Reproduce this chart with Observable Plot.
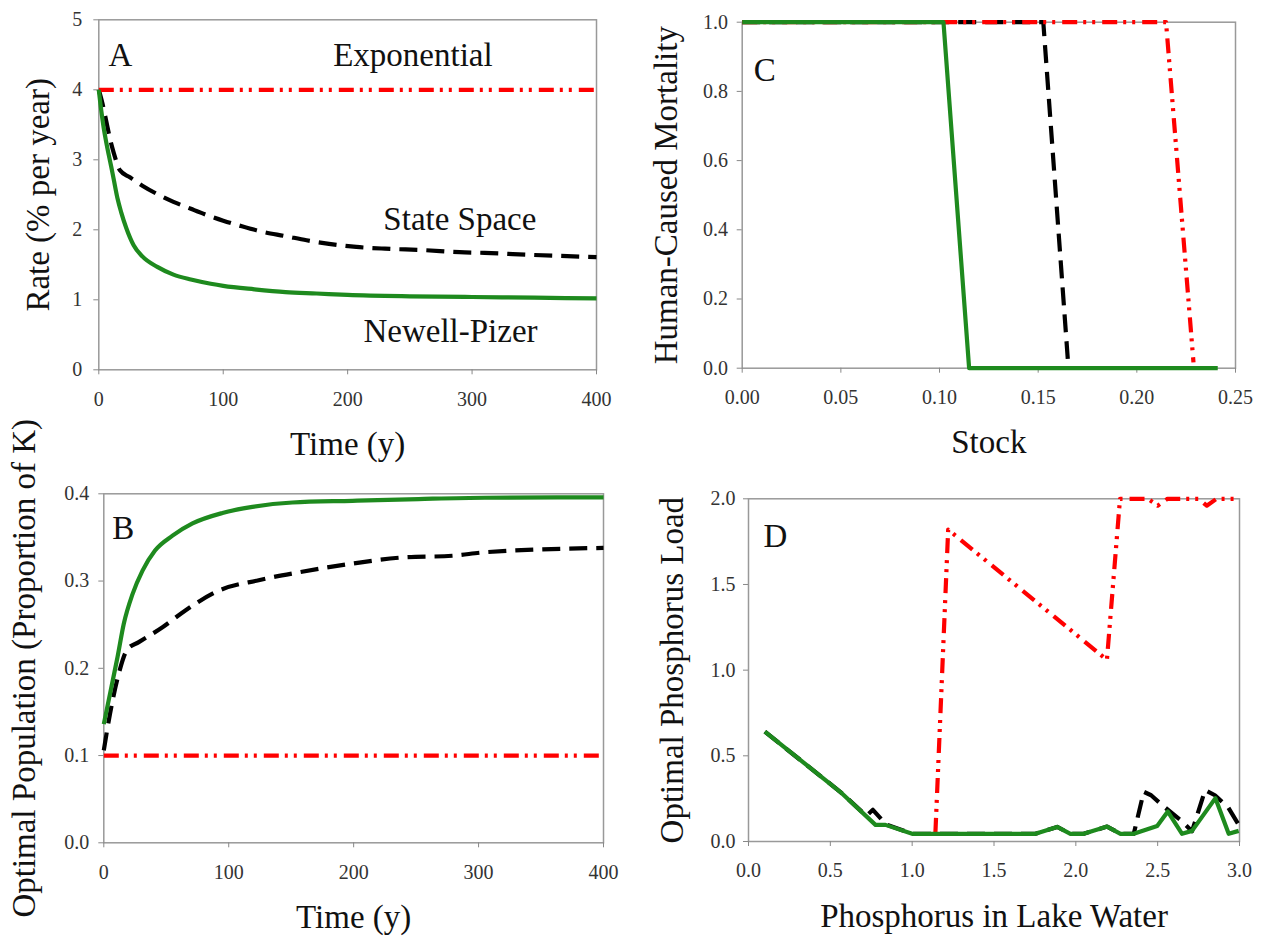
<!DOCTYPE html>
<html><head><meta charset="utf-8">
<script src="https://cdn.jsdelivr.net/npm/d3@7"></script>
<script src="https://cdn.jsdelivr.net/npm/@observablehq/plot@0.6"></script>
<style>
html,body{margin:0;padding:0;background:#fff;}
#chart{position:relative;width:1264px;height:937px;overflow:hidden;}
#chart svg{position:absolute;font-family:"Liberation Serif","Times New Roman",Times,serif !important;}
#chart svg text{font-family:"Liberation Serif","Times New Roman",Times,serif !important;}
</style></head><body><div id="chart"></div>
<script>
// ---------- Panel A: Rate (% per year) vs Time ----------
const aExpTime = [0, 400];
const aExpRate = [4, 4];
const aStateTime = [0, 3, 6, 9, 12, 17, 25, 35, 47, 60, 74, 87, 100, 115, 132, 150, 167, 185, 207, 230, 261, 290, 310, 350, 400];
const aStateRate = [4.0, 3.8, 3.55, 3.3, 3.1, 2.85, 2.75, 2.63, 2.51, 2.40, 2.30, 2.21, 2.13, 2.05, 1.97, 1.91, 1.85, 1.80, 1.755, 1.73, 1.71, 1.68, 1.67, 1.64, 1.61];
const aNewellTime = [0, 2, 4, 6, 8, 10, 12, 15, 18, 22, 28, 35, 47, 60, 74, 90, 100, 125, 150, 175, 200, 250, 300, 350, 400];
const aNewellRate = [4.0, 3.7, 3.45, 3.25, 3.07, 2.9, 2.72, 2.45, 2.25, 2.03, 1.78, 1.62, 1.47, 1.36, 1.29, 1.23, 1.2, 1.15, 1.11, 1.09, 1.07, 1.05, 1.04, 1.03, 1.02];
const aXTicks = [0, 100, 200, 300, 400];
const aYTicks = [0, 1, 2, 3, 4, 5];

// ---------- Panel B: Optimal Population vs Time ----------
const bExpTime = [0, 400];
const bExpPop = [0.1, 0.1];
const bStateTime = [0, 5, 12, 19, 28, 47, 65, 92, 124, 156, 199, 239, 279, 305, 400];
const bStatePop = [0.106, 0.148, 0.194, 0.222, 0.230, 0.247, 0.266, 0.289, 0.301, 0.310, 0.320, 0.327, 0.329, 0.333, 0.338];
const bNewellTime = [0, 5, 11, 16, 23, 31, 41, 55, 71, 95, 119, 151, 199, 252, 305, 400];
const bNewellPop = [0.136, 0.171, 0.213, 0.251, 0.285, 0.312, 0.335, 0.352, 0.366, 0.378, 0.385, 0.390, 0.392, 0.394, 0.3955, 0.396];
const bXTicks = [0, 100, 200, 300, 400];
const bYTicks = [0, 0.1, 0.2, 0.3, 0.4];

// ---------- Panel C: Human-Caused Mortality vs Stock ----------
const cExpStock = [0, 0.2148, 0.2287];
const cExpMort = [1, 1, 0.017];
const cStateStock = [0, 0.1526, 0.165];
const cStateMort = [1, 1, 0.027];
const cNewellStock = [0, 0.102, 0.115, 0.241];
const cNewellMort = [1, 1, 0, 0];
const cXTicks = [0, 0.05, 0.10, 0.15, 0.20, 0.25];
const cYTicks = [0, 0.2, 0.4, 0.6, 0.8, 1.0];

// ---------- Panel D: Optimal Phosphorus Load vs Phosphorus in Lake Water ----------
const dExpP = [1.142, 1.22, 2.19, 2.27, 2.44, 2.5, 2.56, 2.75, 2.8, 2.86, 3.0];
const dExpLoad = [0.05, 1.82, 1.06, 2.0, 2.0, 1.96, 2.0, 2.0, 1.96, 2.0, 2.0];
const dStateP = [0.1, 0.56, 0.72, 0.76, 0.84, 1.0, 1.753, 1.886, 1.967, 2.048, 2.191, 2.273, 2.354, 2.415, 2.46, 2.53, 2.64, 2.71, 2.79, 2.85, 2.93, 3.0];
const dStateLoad = [0.641, 0.29, 0.15, 0.185, 0.10, 0.045, 0.045, 0.085, 0.045, 0.045, 0.087, 0.045, 0.045, 0.29, 0.27, 0.21, 0.125, 0.06, 0.30, 0.27, 0.20, 0.09];
const dNewellP = [0.1, 0.56, 0.776, 0.837, 1.0, 1.753, 1.886, 1.967, 2.048, 2.191, 2.273, 2.354, 2.497, 2.562, 2.649, 2.71, 2.853, 2.934, 2.995];
const dNewellLoad = [0.641, 0.29, 0.097, 0.097, 0.045, 0.045, 0.085, 0.045, 0.045, 0.087, 0.045, 0.045, 0.091, 0.175, 0.045, 0.062, 0.253, 0.045, 0.062];
const dXTicks = [0, 0.5, 1.0, 1.5, 2.0, 2.5, 3.0];
const dYTicks = [0, 0.5, 1.0, 1.5, 2.0];

// ---------- styles ----------
const FONT = "Liberation Serif, Times New Roman, Times, serif";
const GREEN = "#1e8a1e", RED = "#ff0000", BLACK = "#000000";
const RED_DASH = "15,6,3,6,3,7";
const BLACK_DASH = "18,9";
const zip = (xs, ys) => xs.map((x, i) => ({x, y: ys[i]}));

function panel(o) {
  const lineOpts = {x: "x", y: "y", strokeWidth: 4.2, strokeLinejoin: "round", strokeLinecap: "butt", curve: o.curve || "linear"};
  const marks = [
    Plot.frame({stroke: "#999", strokeWidth: 1.5}),
    Plot.axisX({ticks: o.xTicks, tickFormat: o.xFormat, tickSize: 5, tickPadding: 16.5, fontSize: 20, fill: "#333", stroke: "#888", label: null}),
    Plot.axisY({ticks: o.yTicks, tickFormat: o.yFormat, tickSize: 5, tickPadding: o.yPad, fontSize: 20, fill: "#333", stroke: "#888", label: null}),
    Plot.line(zip(o.state[0], o.state[1]), {...lineOpts, stroke: BLACK, strokeDasharray: BLACK_DASH}),
    Plot.line(zip(o.exp[0], o.exp[1]), {...lineOpts, curve: "linear", stroke: RED, strokeDasharray: RED_DASH}),
    Plot.line(zip(o.newell[0], o.newell[1]), {...lineOpts, stroke: GREEN}),
    Plot.text([o.letter], {text: d => d, frameAnchor: "top-left", dx: o.letterDx, dy: o.letterDy, textAnchor: "start", lineAnchor: "bottom", fontSize: 33, fill: "#111"}),
    Plot.text([o.xTitle], {text: d => d, frameAnchor: "bottom", dy: 85, textAnchor: "middle", lineAnchor: "bottom", fontSize: 33, fill: "#111"}),
    Plot.text([o.yTitle], {text: d => d, frameAnchor: "left", dx: o.yTitleDx, rotate: -90, textAnchor: "middle", lineAnchor: "bottom", fontSize: 33, fill: "#111"})
  ];
  if (o.notes) marks.push(Plot.text(o.notes, {x: "x", y: "y", text: "label", textAnchor: "start", lineAnchor: "bottom", fontSize: 33, fill: "#111"}));
  const svg = Plot.plot({
    width: o.width, height: o.height,
    marginLeft: o.m[0], marginRight: o.m[1], marginTop: o.m[2], marginBottom: o.m[3],
    x: {domain: o.xDomain},
    y: {domain: o.yDomain},
    style: {fontFamily: FONT, background: "transparent", overflow: "visible"},
    marks
  });
  svg.style.left = o.left + "px";
  svg.style.top = o.top + "px";
  document.getElementById("chart").appendChild(svg);
}

const aNoteLabels = ["Exponential", "State Space", "Newell-Pizer"];
const aNoteX = [188.4, 228.7, 212.7];
const aNoteY = [4.336, 1.993, 0.397];

panel({
  left: 0, top: 0, width: 632, height: 470, m: [98.3, 36, 19.3, 100.7],
  xDomain: [0, 400], yDomain: [0, 5], xTicks: aXTicks, yTicks: aYTicks, xFormat: "d", yFormat: "d", yPad: 11.5,
  exp: [aExpTime, aExpRate], state: [aStateTime, aStateRate], newell: [aNewellTime, aNewellRate], curve: "monotone-x",
  letter: "A", letterDx: 9.7, letterDy: 45.7,
  xTitle: "Time (y)", yTitle: "Rate (% per year)", yTitleDx: -49.7,
  notes: aNoteLabels.map((label, i) => ({label, x: aNoteX[i], y: aNoteY[i]}))
});

panel({
  left: 0, top: 470, width: 632, height: 467, m: [103.3, 29, 23.3, 94.7],
  xDomain: [0, 400], yDomain: [0, 0.4], xTicks: bXTicks, yTicks: bYTicks, xFormat: "d", yFormat: ".1f", yPad: 9.5,
  exp: [bExpTime, bExpPop], state: [bStateTime, bStatePop], newell: [bNewellTime, bNewellPop], curve: "monotone-x",
  letter: "B", letterDx: 8.4, letterDy: 45,
  xTitle: "Time (y)", yTitle: "Optimal Population (Proportion of K)", yTitleDx: -68.5
});

panel({
  left: 632, top: 0, width: 632, height: 470, m: [109.7, 29, 21.7, 102.3],
  xDomain: [0, 0.25], yDomain: [0, 1], xTicks: cXTicks, yTicks: cYTicks, xFormat: ".2f", yFormat: ".1f", yPad: 9.3,
  exp: [cExpStock, cExpMort], state: [cStateStock, cStateMort], newell: [cNewellStock, cNewellMort],
  letter: "C", letterDx: 11.6, letterDy: 58.3,
  xTitle: "Stock", yTitle: "Human-Caused Mortality", yTitleDx: -65
});

panel({
  left: 632, top: 470, width: 632, height: 467, m: [116, 25, 28.3, 96],
  xDomain: [0, 3], yDomain: [0, 2], xTicks: dXTicks, yTicks: dYTicks, xFormat: ".1f", yFormat: ".1f", yPad: 8,
  exp: [dExpP, dExpLoad], state: [dStateP, dStateLoad], newell: [dNewellP, dNewellLoad],
  letter: "D", letterDx: 15, letterDy: 47.7,
  xTitle: "Phosphorus in Lake Water", yTitle: "Optimal Phosphorus Load", yTitleDx: -66
});
</script></body></html>
